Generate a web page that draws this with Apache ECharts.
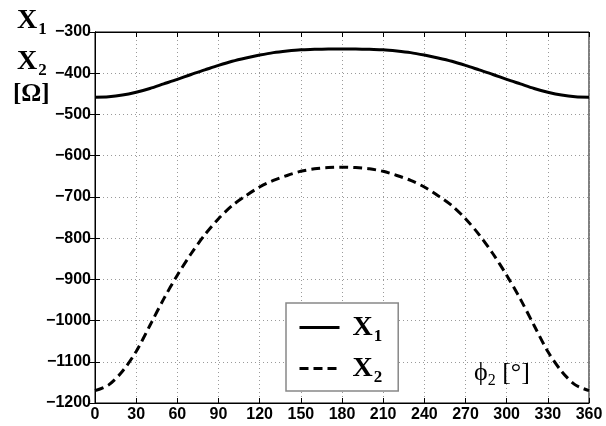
<!DOCTYPE html>
<html>
<head>
<meta charset="utf-8">
<script src="https://cdn.jsdelivr.net/npm/echarts@6/dist/echarts.min.js"></script>
<style>
  html, body { margin: 0; padding: 0; background: #fff; }
  #chart { width: 606px; height: 426px; }
</style>
</head>
<body>
<div id="chart"></div>
<script>
// Rotor angle phi2 in degrees
const phi = [0, 10, 20, 30, 40, 50, 60, 70, 80, 90, 100, 110, 120, 130, 140, 150, 160, 170, 180,
             190, 200, 210, 220, 230, 240, 250, 260, 270, 280, 290, 300, 310, 320, 330, 340, 350, 360];
// Reactance X1 [Ohm]
const x1 = [-458, -457, -453, -446, -437, -426, -415, -403, -392, -381, -371, -363, -356, -350, -346, -343, -342, -341, -341,
            -341, -342, -343, -346, -350, -356, -363, -371, -381, -392, -403, -415, -426, -437, -446, -453, -457, -458];
// Reactance X2 [Ohm]
const x2 = [-1170, -1156, -1123, -1075, -1012, -948, -890, -838, -792, -753, -721, -697, -676, -660, -648, -638, -632, -629, -628,
            -629, -632, -638, -648, -660, -676, -697, -721, -753, -792, -838, -890, -948, -1012, -1075, -1123, -1156, -1170];

const xTicks = { min: 0, max: 360, interval: 30 };
const yTicks = { min: -1200, max: -300, interval: 100 };

const serif = '"Liberation Serif", "DejaVu Serif", serif';
const sans = '"Liberation Sans", Arial, sans-serif';

const chart = echarts.init(document.getElementById('chart'));

const gridLine = { show: true, lineStyle: { color: '#9a9a9a', width: 1, type: [1, 3] } };
const frameLine = { show: true, lineStyle: { color: '#000', width: 1 } };
const tick = { show: true, inside: true, length: 5, lineStyle: { color: '#000', width: 1 } };
const labelFmt = v => String(v).replace('-', '\u2212');

const richText = {
  x: { fontFamily: serif, fontWeight: 'bold', fontSize: 28, color: '#000', lineHeight: 30 },
  s: { fontFamily: serif, fontWeight: 'bold', fontSize: 17, color: '#000', padding: [18, 0, 0, 1], lineHeight: 30 }
};

chart.setOption({
  animation: false,
  backgroundColor: '#fff',
  grid: { left: 95, right: 17, top: 32, bottom: 23, show: true, borderColor: '#000', borderWidth: 1 },
  xAxis: [
    {
      type: 'value', min: xTicks.min, max: xTicks.max, interval: xTicks.interval,
      axisLine: frameLine, axisTick: tick, splitLine: gridLine,
      axisLabel: { color: '#000', fontFamily: sans, fontWeight: 'bold', fontSize: 16, margin: 4 }
    },
    {
      type: 'value', position: 'top', min: xTicks.min, max: xTicks.max, interval: xTicks.interval,
      axisLine: frameLine, axisTick: tick, splitLine: { show: false }, axisLabel: { show: false }
    }
  ],
  yAxis: [
    {
      type: 'value', min: yTicks.min, max: yTicks.max, interval: yTicks.interval,
      axisLine: frameLine, axisTick: tick, splitLine: gridLine,
      axisLabel: { color: '#000', fontFamily: sans, fontWeight: 'bold', fontSize: 16, margin: 4, formatter: labelFmt }
    },
    {
      type: 'value', position: 'right', min: yTicks.min, max: yTicks.max, interval: yTicks.interval,
      axisLine: frameLine, axisTick: tick, splitLine: { show: false }, axisLabel: { show: false }
    }
  ],
  legend: {
    orient: 'vertical',
    left: 286, top: 303,
    padding: [7, 16, 5, 12],
    itemGap: 6,
    itemWidth: 40, itemHeight: 14,
    backgroundColor: '#fff',
    borderColor: '#888', borderWidth: 1.5, borderRadius: 0,
    data: ['X1', 'X2'],
    itemStyle: { color: 'transparent', borderColor: 'transparent', borderWidth: 0 },
    lineStyle: { width: 3 },
    formatter: name => '{x|X}{s|' + name.slice(1) + '}',
    textStyle: { rich: richText, padding: [0, 0, 0, 8] }
  },
  graphic: [
    { type: 'text', left: 17, top: 3, style: { text: '{x|X}{s|1}', rich: richText } },
    { type: 'text', left: 17, top: 44, style: { text: '{x|X}{s|2}', rich: richText } },
    { type: 'text', left: 13, top: 82, style: { text: '[\u03A9]', fontFamily: serif, fontWeight: 'bold', fontSize: 25, fill: '#000' } },
    {
      type: 'text', left: 474, top: 357,
      style: {
        text: '{p|\u03D5}{q|2}{p| [\u00B0]}',
        rich: {
          p: { fontFamily: serif, fontSize: 26, color: '#000', lineHeight: 30 },
          q: { fontFamily: serif, fontSize: 16, color: '#000', padding: [16, 0, 0, 0], lineHeight: 30 }
        }
      }
    }
  ],
  series: [
    {
      name: 'X1', type: 'line', smooth: 0.3, symbol: 'none',
      data: phi.map((p, i) => [p, x1[i]]),
      lineStyle: { color: '#000', width: 3, type: 'solid' },
      itemStyle: { color: '#000' }
    },
    {
      name: 'X2', type: 'line', smooth: 0.3, symbol: 'none',
      data: phi.map((p, i) => [p, x2[i]]),
      lineStyle: { color: '#000', width: 3, type: [9, 5] },
      itemStyle: { color: '#000' }
    }
  ]
});
</script>
</body>
</html>
